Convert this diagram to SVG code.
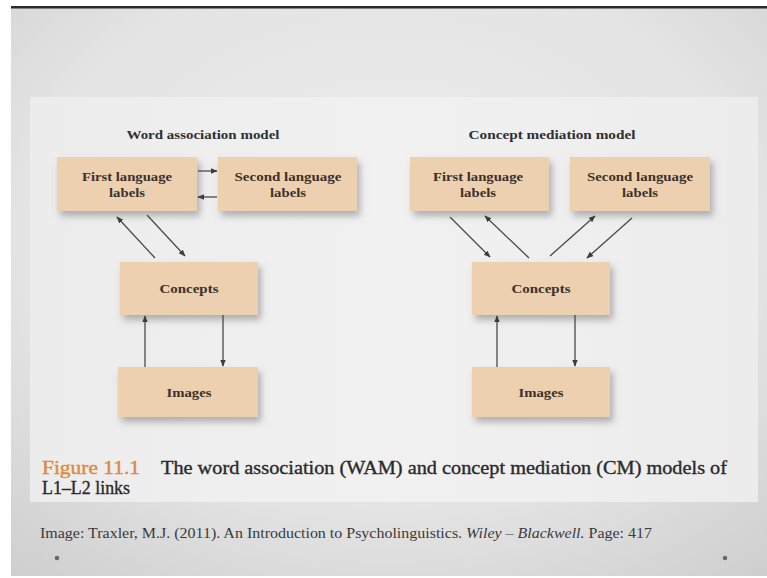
<svg xmlns="http://www.w3.org/2000/svg" width="767" height="578" viewBox="0 0 767 578">
<defs>
<radialGradient id="bg" cx="0.5" cy="0.4" r="0.8">
<stop offset="0" stop-color="#ececec"/>
<stop offset="0.6" stop-color="#e4e4e4"/>
<stop offset="1" stop-color="#cdcdcd"/>
</radialGradient>
<linearGradient id="panel" x1="0" y1="0" x2="1" y2="0">
<stop offset="0" stop-color="#ececec"/>
<stop offset="0.5" stop-color="#f1f1f1"/>
<stop offset="1" stop-color="#ececec"/>
</linearGradient>
<filter id="sh" x="-20%" y="-30%" width="150%" height="170%">
<feDropShadow dx="3" dy="5" stdDeviation="3.5" flood-color="#7a7a80" flood-opacity="0.55"/>
</filter>
<marker id="ah" viewBox="0 0 10 10" refX="9" refY="5" markerWidth="7" markerHeight="7" markerUnits="userSpaceOnUse" orient="auto">
<path d="M0,1 L10,5 L0,9 z" fill="#3d3d3d"/>
</marker>
</defs>
<style>
.box{fill:#ecd0b0;filter:url(#sh)}
.lbl{font-family:"Liberation Serif","DejaVu Serif",serif;font-weight:bold;font-size:13px;fill:#3b302b;text-anchor:middle}
.ttl{font-family:"Liberation Serif","DejaVu Serif",serif;font-weight:bold;font-size:12.5px;fill:#2f2f33;text-anchor:middle}
.cap{font-family:"Liberation Serif","DejaVu Serif",serif;font-size:18px;fill:#2a2a2a;stroke:#2a2a2a;stroke-width:0.35}
.src{font-family:"Liberation Serif","DejaVu Serif",serif;font-size:14px;fill:#3a3a3a}
.con line{stroke:#4a4a4a;stroke-width:1.3;marker-end:url(#ah)}
</style>
<rect x="0" y="0" width="767" height="578" fill="#ffffff"/>
<rect x="11" y="6" width="756" height="570" fill="url(#bg)"/>
<rect x="11" y="6" width="756" height="2.5" fill="#2a2a2a"/>
<rect x="30" y="97" width="728" height="405" fill="url(#panel)"/>

<text class="ttl" x="203" y="139" textLength="153" lengthAdjust="spacingAndGlyphs">Word association model</text>
<text class="ttl" x="552" y="139" textLength="167" lengthAdjust="spacingAndGlyphs">Concept mediation model</text>

<g id="wam-l1">
<rect class="box" x="57" y="157" width="140" height="54"/>
<text class="lbl" x="127" y="181" textLength="90" lengthAdjust="spacingAndGlyphs">First language</text>
<text class="lbl" x="127" y="197" textLength="36" lengthAdjust="spacingAndGlyphs">labels</text>
</g>
<g id="wam-l2">
<rect class="box" x="218" y="157" width="139" height="54"/>
<text class="lbl" x="288" y="181" textLength="107" lengthAdjust="spacingAndGlyphs">Second language</text>
<text class="lbl" x="288" y="197" textLength="36" lengthAdjust="spacingAndGlyphs">labels</text>
</g>
<g id="wam-concepts">
<rect class="box" x="120" y="262" width="138" height="53"/>
<text class="lbl" x="189" y="293" textLength="59" lengthAdjust="spacingAndGlyphs">Concepts</text>
</g>
<g id="wam-images">
<rect class="box" x="118" y="367" width="140" height="50"/>
<text class="lbl" x="189" y="397" textLength="45" lengthAdjust="spacingAndGlyphs">Images</text>
</g>

<g id="cm-l1">
<rect class="box" x="410" y="157" width="139" height="54"/>
<text class="lbl" x="478" y="181" textLength="90" lengthAdjust="spacingAndGlyphs">First language</text>
<text class="lbl" x="478" y="197" textLength="36" lengthAdjust="spacingAndGlyphs">labels</text>
</g>
<g id="cm-l2">
<rect class="box" x="570" y="157" width="140" height="54"/>
<text class="lbl" x="640" y="181" textLength="106" lengthAdjust="spacingAndGlyphs">Second language</text>
<text class="lbl" x="640" y="197" textLength="36" lengthAdjust="spacingAndGlyphs">labels</text>
</g>
<g id="cm-concepts">
<rect class="box" x="472" y="262" width="138" height="53"/>
<text class="lbl" x="541" y="293" textLength="59" lengthAdjust="spacingAndGlyphs">Concepts</text>
</g>
<g id="cm-images">
<rect class="box" x="472" y="367" width="138" height="50"/>
<text class="lbl" x="541" y="397" textLength="45" lengthAdjust="spacingAndGlyphs">Images</text>
</g>

<g id="connectors" class="con">
<line x1="198" y1="171" x2="217" y2="171"/>
<line x1="217" y1="197" x2="198" y2="197"/>
<line x1="155" y1="258" x2="117" y2="217"/>
<line x1="147" y1="215" x2="185" y2="256"/>
<line x1="145" y1="367" x2="145" y2="316"/>
<line x1="223" y1="315" x2="223" y2="366"/>
<line x1="450" y1="217" x2="490" y2="257"/>
<line x1="529" y1="258" x2="485" y2="216"/>
<line x1="550" y1="256" x2="595" y2="216"/>
<line x1="632" y1="218" x2="587" y2="258"/>
<line x1="497" y1="367" x2="497" y2="316"/>
<line x1="575" y1="315" x2="575" y2="366"/>
</g>

<text class="cap" x="42" y="474" fill="#e0883a" stroke="#e0883a" style="fill:#e0883a;stroke:#e0883a" textLength="98" lengthAdjust="spacingAndGlyphs">Figure 11.1</text>
<text class="cap" x="161" y="474" textLength="566" lengthAdjust="spacingAndGlyphs">The word association (WAM) and concept mediation (CM) models of</text>
<text class="cap" x="42" y="494" textLength="88" lengthAdjust="spacingAndGlyphs">L1–L2 links</text>
<text class="src" x="40" y="538" textLength="612" lengthAdjust="spacingAndGlyphs">Image: Traxler, M.J. (2011). An Introduction to Psycholinguistics. <tspan font-style="italic">Wiley – Blackwell.</tspan> Page: 417</text>
<circle cx="57" cy="558" r="2.3" fill="#6a6a6a"/>
<circle cx="725" cy="558" r="2.3" fill="#6a6a6a"/>
</svg>
